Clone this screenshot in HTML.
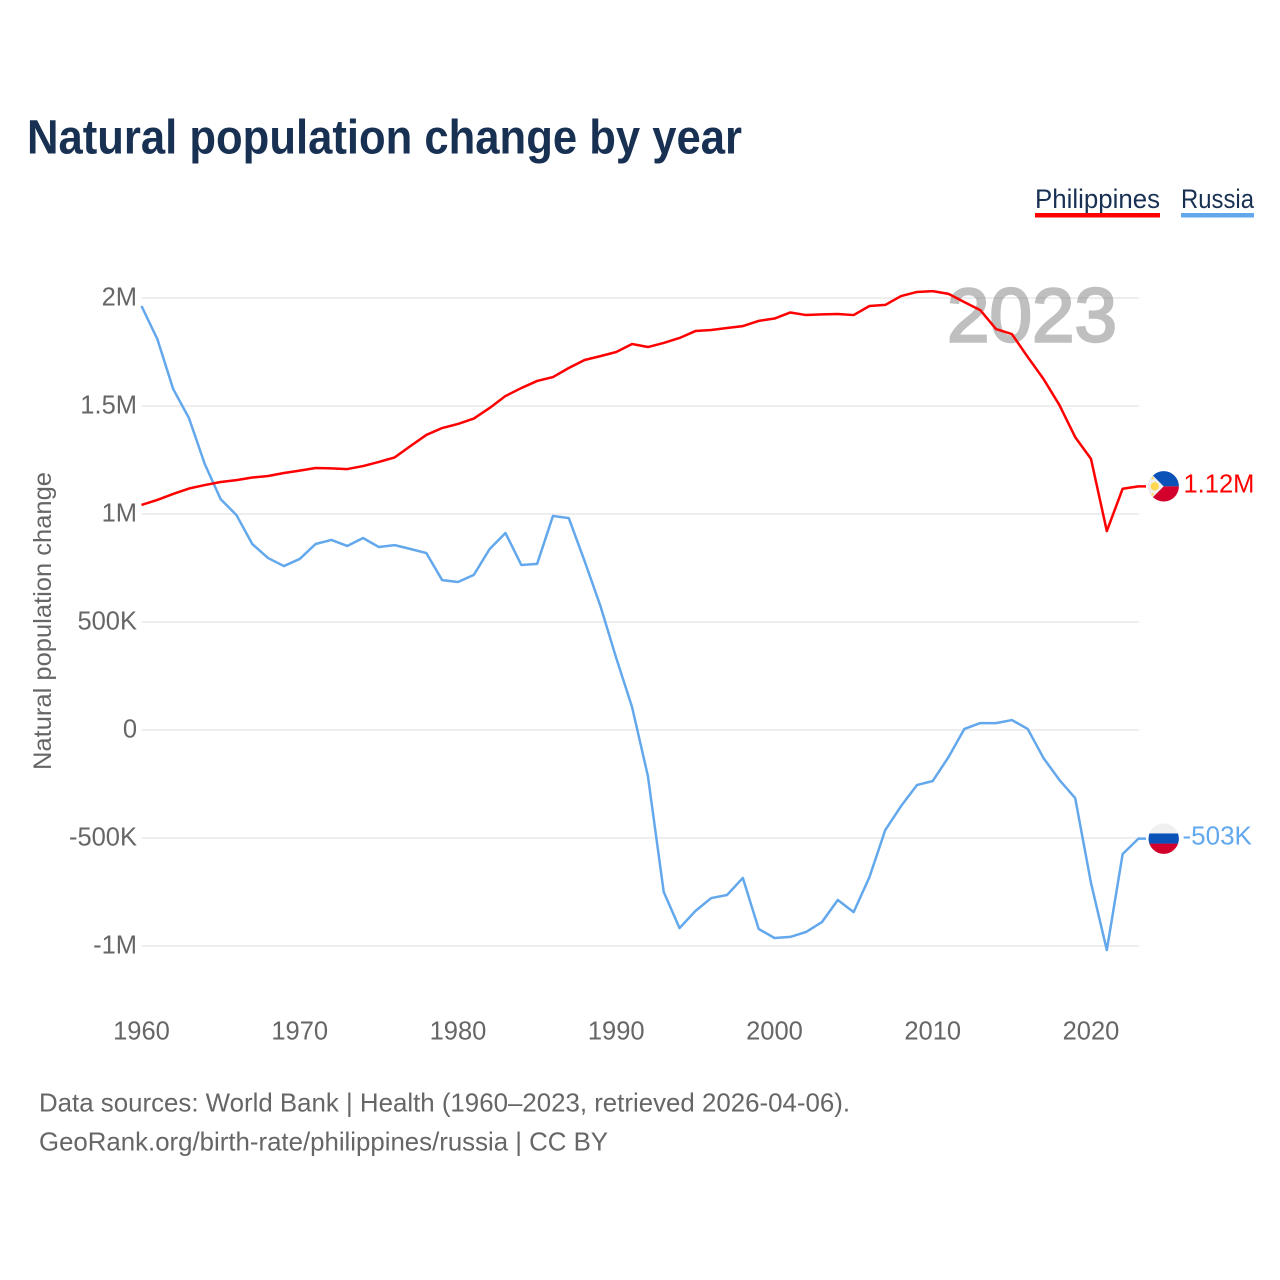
<!DOCTYPE html>
<html lang="en">
<head>
<meta charset="utf-8">
<title>Natural population change by year</title>
<style>
html,body{margin:0;padding:0;background:#fff;}
svg{display:block;}
text{font-family:"Liberation Sans",sans-serif;}
</style>
</head>
<body>
<svg id="chart" xmlns="http://www.w3.org/2000/svg" width="1280" height="1280" viewBox="0 0 1280 1280">
  <rect width="1280" height="1280" fill="#fff"/>
  <text x="27" y="153.5" font-size="48" font-weight="700" fill="#183153" textLength="715" lengthAdjust="spacingAndGlyphs">Natural population change by year</text>
  <g>
    <g>
      <text x="1035" y="207.8" font-size="27" fill="#183153" textLength="125" lengthAdjust="spacingAndGlyphs">Philippines</text>
      <rect x="1035" y="213" width="125" height="4.5" fill="#ff0000"/>
    </g>
    <g>
      <text x="1181" y="207.8" font-size="27" fill="#183153" textLength="73" lengthAdjust="spacingAndGlyphs">Russia</text>
      <rect x="1181" y="213" width="73" height="4.5" fill="#63a8ec"/>
    </g>
  </g>
  <text transform="translate(51 621) rotate(-90)" text-anchor="middle" font-size="25" fill="#666" textLength="298" lengthAdjust="spacingAndGlyphs">Natural population change</text>
  <g id="grid"></g>
  <g id="yticks"></g>
  <g id="xticks"></g>
  <text x="947" y="341.5" font-size="76" fill="#808080" stroke="#808080" stroke-width="2.4" opacity="0.5" textLength="170" lengthAdjust="spacingAndGlyphs">2023</text>
  <g id="lines"></g>
  <defs>
    <clipPath id="flagClip"><circle cx="0" cy="0" r="15.2"/></clipPath>
  </defs>
  <g id="flag-ph">
    <g clip-path="url(#flagClip)">
      <rect x="-16" y="-16" width="32" height="16" fill="#0a52b8"/>
      <rect x="-16" y="0" width="32" height="16" fill="#d3002c"/>
      <path d="M-16 -16 L0 0 L-16 16 Z" fill="#f0f0f0"/>
      <circle cx="-9" cy="0" r="4.2" fill="#ffd84f"/>
      <circle cx="-11" cy="-8" r="1.2" fill="#ffd84f"/>
      <circle cx="-11" cy="8" r="1.2" fill="#ffd84f"/>
    </g>
  </g>
  <g id="flag-ru">
    <g clip-path="url(#flagClip)">
      <rect x="-16" y="-16" width="32" height="11" fill="#f0f0f0"/>
      <rect x="-16" y="-5.2" width="32" height="10.4" fill="#0a52b8"/>
      <rect x="-16" y="5" width="32" height="11" fill="#d3002c"/>
    </g>
  </g>
  <g id="endlabels"></g>
  <text x="39" y="1111.5" font-size="26" fill="#666" textLength="811" lengthAdjust="spacingAndGlyphs">Data sources: World Bank | Health (1960–2023, retrieved 2026-04-06).</text>
  <text x="39" y="1150.5" font-size="26" fill="#666" textLength="569" lengthAdjust="spacingAndGlyphs">GeoRank.org/birth-rate/philippines/russia | CC BY</text>
</svg>
<script>
const firstYear = 1960;
const xTickYears = [1960, 1970, 1980, 1990, 2000, 2010, 2020];
const yTickValues = [2000, 1500, 1000, 500, 0, -500, -1000];
const yTickLabels = ["2M", "1.5M", "1M", "500K", "0", "-500K", "-1M"];
// Values in thousands, 1960–2023
const philippinesValues = [1042,1065,1093,1118,1134,1148,1157,1169,1176,1190,1201,1213,1211,1208,1222,1241,1262,1315,1366,1398,1417,1442,1491,1546,1583,1616,1634,1676,1713,1731,1750,1787,1773,1792,1815,1847,1852,1861,1870,1894,1905,1933,1921,1924,1926,1921,1963,1968,2009,2028,2032,2019,1981,1944,1856,1833,1727,1625,1505,1356,1255,921,1117,1128];
const russiaValues = [1963,1810,1579,1444,1231,1069,995,861,796,759,792,861,880,852,889,847,856,838,819,694,685,718,838,912,764,769,991,981,782,574,333,106,-213,-750,-917,-838,-778,-764,-685,-921,-963,-958,-935,-889,-787,-843,-681,-463,-352,-255,-236,-125,5,32,32,46,5,-130,-231,-315,-708,-1019,-574,-503];

const NS = "http://www.w3.org/2000/svg";
const leaderEndX = 1146;
function xScale(year) { return 141.5 + (year - firstYear) * 15.825; }
function yScale(v) { return 730 - v * 0.216; }
function formatValue(v) {
  if (Math.abs(v) >= 1000) return (Math.floor(v / 10) / 100).toFixed(2) + "M";
  return Math.round(v) + "K";
}
function make(tag, attrs, parent, text) {
  const el = document.createElementNS(NS, tag);
  for (const k in attrs) el.setAttribute(k, attrs[k]);
  if (text !== undefined) el.textContent = text;
  parent.appendChild(el);
  return el;
}
const grid = document.getElementById("grid");
const yticks = document.getElementById("yticks");
const xticks = document.getElementById("xticks");
const lines = document.getElementById("lines");
const endlabels = document.getElementById("endlabels");

yTickValues.forEach(function (v, i) {
  const gl = make("line", { x1: 141.5, x2: 1139, y1: yScale(v), y2: yScale(v), stroke: "#eeeeee", "stroke-width": 2 }, grid);
  
  
  const t = make("text", { x: 137, y: yScale(v) + 7.5, "text-anchor": "end", "font-size": 25.5, fill: "#666" }, yticks, yTickLabels[i]);
  
  
});
xTickYears.forEach(function (yr) {
  const t = make("text", { x: xScale(yr), y: 1039.5, "text-anchor": "middle", "font-size": 25.5, fill: "#666" }, xticks, String(yr));
  
  
});
function pathFor(values) {
  const d = values.map(function (v, i) {
    return (i ? "L" : "M") + xScale(firstYear + i).toFixed(2) + " " + yScale(v).toFixed(2);
  }).join(" ");
  return d + " L" + leaderEndX + " " + yScale(values[values.length - 1]).toFixed(2);
}
const russiaLine = make("path", { d: pathFor(russiaValues), fill: "none", stroke: "#63a8ec", "stroke-width": 2.5, "stroke-linejoin": "round" }, lines);


const phLine = make("path", { d: pathFor(philippinesValues), fill: "none", stroke: "#ff0000", "stroke-width": 2.5, "stroke-linejoin": "round" }, lines);



const phLast = philippinesValues[philippinesValues.length - 1];
const ruLast = russiaValues[russiaValues.length - 1];
document.getElementById("flag-ph").setAttribute("transform", "translate(1163.7 " + yScale(phLast) + ")");
document.getElementById("flag-ru").setAttribute("transform", "translate(1163.7 " + yScale(ruLast) + ")");
const phLabel = make("text", { x: 1183.5, y: yScale(phLast) + 6, "font-size": 25.5, fill: "#ff0000" }, endlabels, formatValue(phLast));


const ruLabel = make("text", { x: 1182.5, y: yScale(ruLast) + 6, "font-size": 26, fill: "#63a8ec" }, endlabels, formatValue(ruLast));


</script>
</body>
</html>
